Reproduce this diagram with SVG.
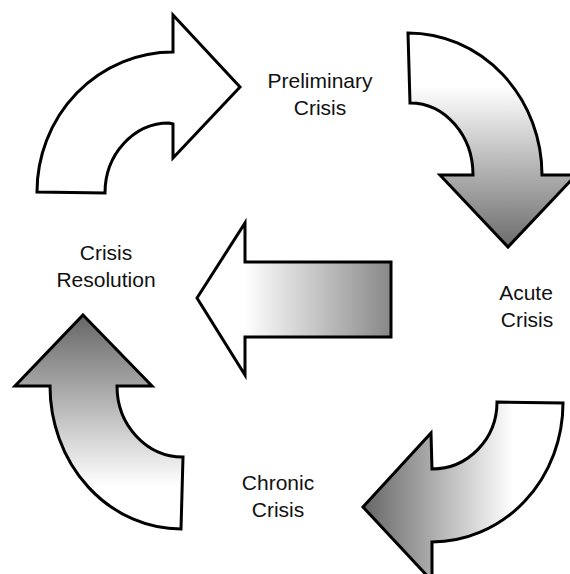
<svg xmlns="http://www.w3.org/2000/svg" width="570" height="574" viewBox="0 0 570 574">
<style>
.arrow{stroke:#000;stroke-width:3;stroke-linejoin:miter}
.lbl{font-family:"Liberation Sans",Arial,sans-serif;font-size:21px;fill:#111;text-anchor:middle}
</style>
<defs>
<linearGradient id="g2" gradientUnits="userSpaceOnUse" x1="0" y1="33" x2="0" y2="247">
<stop offset="0.25" stop-color="#ffffff"/><stop offset="1" stop-color="#6c6c6c"/>
</linearGradient>
<linearGradient id="g3" gradientUnits="userSpaceOnUse" x1="245" y1="0" x2="391" y2="0">
<stop offset="0" stop-color="#ffffff"/><stop offset="1" stop-color="#888888"/>
</linearGradient>
<linearGradient id="g4" gradientUnits="userSpaceOnUse" x1="0" y1="315" x2="0" y2="529">
<stop offset="0" stop-color="#666666"/><stop offset="0.8" stop-color="#ffffff"/>
</linearGradient>
<linearGradient id="g5" gradientUnits="userSpaceOnUse" x1="363" y1="0" x2="563" y2="0">
<stop offset="0" stop-color="#666666"/><stop offset="0.75" stop-color="#ffffff"/>
</linearGradient>
</defs>
<rect width="570" height="574" fill="#fff"/>
<g id="connectors">
<path id="arrow1" class="arrow" fill="#fff" d="M173,15 L240,87 L173,158 L173,124 L169,123 A64,70 0 0 0 105,193 L37,192 A136,140 0 0 1 173,52 Z"/>
<path id="arrow2" class="arrow" fill="url(#g2)" d="M408,33 A134,142 0 0 1 542,175 L576,175 L508,247 L440,175 L473,175 A63,72 0 0 0 410,103 Z"/>
<path id="arrow3" class="arrow" fill="url(#g3)" d="M197,298 L245,223 L245,262 L391,262 L391,337 L245,337 L245,375 Z"/>
<path id="arrow4" class="arrow" fill="url(#g4)" d="M83,315 L152,386 L117,386 A66,71 0 0 0 183,457 L181,529 A131,143 0 0 1 50,386 L15,386 Z"/>
<path id="arrow5" class="arrow" fill="url(#g5)" d="M497,402 L563,403 A131,139 0 0 1 432,542 L432,581 L363,507 L431,433 L432,469 A65,67 0 0 0 497,402 Z"/>
</g>
<g id="preliminary"><text class="lbl" x="320" y="88">Preliminary</text><text class="lbl" x="320" y="115">Crisis</text></g>
<g id="acute"><text class="lbl" x="526" y="300">Acute</text><text class="lbl" x="527" y="327">Crisis</text></g>
<g id="chronic"><text class="lbl" x="278" y="490">Chronic</text><text class="lbl" x="278" y="517">Crisis</text></g>
<g id="resolution"><text class="lbl" x="106" y="260">Crisis</text><text class="lbl" x="106" y="287">Resolution</text></g>
</svg>
